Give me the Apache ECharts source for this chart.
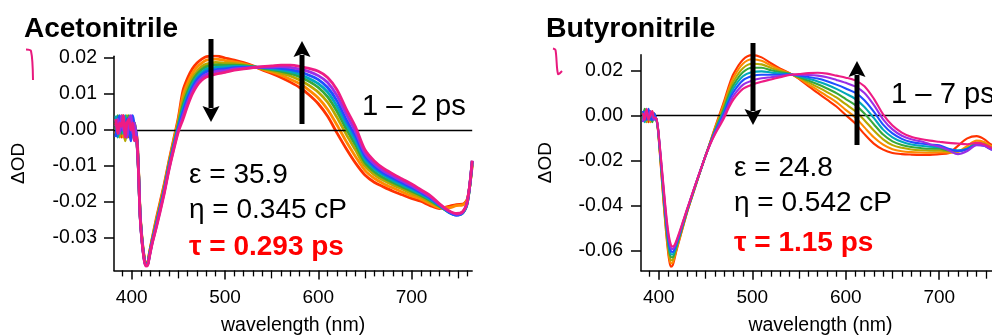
<!DOCTYPE html>
<html><head><meta charset="utf-8">
<script src="https://cdn.jsdelivr.net/npm/echarts@6/dist/echarts.min.js"></script>
<style>html,body{margin:0;padding:0;background:#fff}#c{width:992px;height:336px}</style>
</head><body><div id="c"></div>
<script>
// shared wavelength grid (nm)
const WL = [383,385,387,389,391,393,395,397,399,401,403,405,407,409,411,413,415,417,419,422,426,430,435,440,445,450,455,460,465,470,475,480,490,500,510,520,530,540,550,560,570,580,590,600,610,620,630,640,650,660,670,680,690,700,710,720,730,740,748,755,760,765];

// Acetonitrile, early (red) -> late (magenta)
const ACN_0 = [0.002,-0.001,0.003,-0.002,0.004,0.000,0.003,-0.002,0.002,0.001,-0.001,-0.001,-0.009,-0.023,-0.030,-0.0345,-0.0368,-0.0368,-0.034,-0.030,-0.025,-0.0205,-0.0148,-0.0085,-0.0025,0.0035,0.011,0.0145,0.017,0.0186,0.0197,0.0204,0.0206,0.0200,0.0194,0.0187,0.0178,0.0167,0.0157,0.0146,0.0133,0.0118,0.0098,0.0073,0.0038,-0.0008,-0.0052,-0.0092,-0.0125,-0.0145,-0.0158,-0.0170,-0.0180,-0.0190,-0.0198,-0.0210,-0.0218,-0.0212,-0.0207,-0.0206,-0.0190,-0.0098];
const ACN_1 = [-0.001,0.003,0.000,0.004,-0.002,0.003,-0.001,0.003,0.000,-0.002,0.002,-0.0015,-0.0092,-0.0232,-0.0302,-0.0347,-0.037,-0.0369,-0.0342,-0.0303,-0.0255,-0.021,-0.0153,-0.009,-0.003,0.0028,0.0096,0.0131,0.0157,0.0175,0.0186,0.0194,0.0197,0.0193,0.0189,0.0184,0.0177,0.0169,0.0161,0.0152,0.0141,0.0129,0.0111,0.0089,0.0057,0.0014,-0.0032,-0.0074,-0.0112,-0.0134,-0.0149,-0.0161,-0.0172,-0.0183,-0.0192,-0.0205,-0.0216,-0.0216,-0.021,-0.0208,-0.0192,-0.0096];
const ACN_2 = [0.003,0.001,-0.002,0.002,0.001,-0.003,0.004,0.001,-0.002,0.003,0.000,-0.002,-0.0095,-0.0234,-0.0304,-0.0349,-0.0372,-0.0371,-0.0344,-0.0305,-0.0259,-0.0215,-0.0158,-0.0094,-0.0036,0.0021,0.0081,0.0117,0.0145,0.0163,0.0176,0.0183,0.0188,0.0186,0.0184,0.0181,0.0176,0.0170,0.0165,0.0158,0.0150,0.0139,0.0124,0.0105,0.0077,0.0035,-0.0012,-0.0056,-0.0100,-0.0124,-0.0140,-0.0153,-0.0164,-0.0176,-0.0186,-0.0200,-0.0213,-0.0226,-0.0233,-0.0228,-0.0198,-0.009];
const ACN_3 = [0.000,0.004,0.002,-0.001,0.003,0.002,-0.002,0.004,0.001,-0.001,0.002,-0.0015,-0.0097,-0.0235,-0.0305,-0.035,-0.0373,-0.0372,-0.0346,-0.0308,-0.0263,-0.0219,-0.0162,-0.0098,-0.004,0.0015,0.007,0.0107,0.0135,0.0155,0.0168,0.0176,0.0181,0.018,0.018,0.0179,0.0176,0.0172,0.0168,0.0163,0.0157,0.0148,0.0135,0.0118,0.0092,0.0052,0.0003,-0.0042,-0.009,-0.0116,-0.0133,-0.0146,-0.0158,-0.017,-0.0182,-0.0196,-0.0212,-0.0228,-0.0235,-0.023,-0.02,-0.0088];
const ACN_4 = [0.004,-0.002,0.001,0.003,-0.001,0.004,0.001,-0.001,0.003,0.002,-0.002,-0.002,-0.0098,-0.0236,-0.0306,-0.0351,-0.0374,-0.0373,-0.0347,-0.0309,-0.0266,-0.0222,-0.0165,-0.01,-0.0044,0.001,0.006,0.0097,0.0127,0.0147,0.016,0.0169,0.0174,0.0175,0.0177,0.0176,0.0175,0.0173,0.017,0.0167,0.0162,0.0155,0.0143,0.0129,0.0105,0.0066,0.0016,-0.003,-0.0082,-0.0108,-0.0126,-0.014,-0.0153,-0.0165,-0.0178,-0.0193,-0.021,-0.0229,-0.0236,-0.023,-0.0199,-0.0087];
const ACN_5 = [-0.002,0.002,0.004,0.000,0.002,-0.001,0.003,0.002,-0.003,0.004,0.001,-0.001,-0.0099,-0.0237,-0.0307,-0.0352,-0.0375,-0.0374,-0.0349,-0.0311,-0.0269,-0.0225,-0.0168,-0.0104,-0.0047,0.0005,0.0051,0.0088,0.0118,0.014,0.0153,0.0162,0.0168,0.017,0.0173,0.0174,0.0174,0.0174,0.0173,0.0171,0.0168,0.0162,0.0152,0.014,0.0118,0.0081,0.0029,-0.0018,-0.0073,-0.0101,-0.012,-0.0134,-0.0147,-0.016,-0.0174,-0.0189,-0.0208,-0.0228,-0.0237,-0.0229,-0.0198,-0.0086];
const ACN_6 = [0.001,0.003,-0.001,0.004,0.000,0.002,-0.002,0.003,0.004,-0.001,0.002,-0.002,-0.01,-0.0239,-0.0309,-0.0354,-0.0377,-0.0375,-0.035,-0.0313,-0.0272,-0.0228,-0.0171,-0.0107,-0.0051,0.0000,0.004,0.0078,0.0109,0.0131,0.0146,0.0154,0.0162,0.0165,0.017,0.0172,0.0174,0.0175,0.0175,0.0176,0.0174,0.0169,0.0162,0.0151,0.0132,0.0096,0.0044,-0.0005,-0.0064,-0.0094,-0.0114,-0.0128,-0.0142,-0.0155,-0.017,-0.0186,-0.0207,-0.0226,-0.0234,-0.0228,-0.0196,-0.0086];
const ACN_7 = [0.003,-0.001,0.002,0.001,0.004,-0.002,0.002,0.003,0.000,0.002,-0.003,-0.002,-0.010,-0.024,-0.031,-0.0355,-0.0378,-0.0376,-0.0352,-0.0315,-0.0275,-0.0232,-0.0175,-0.011,-0.0055,-0.0005,0.003,0.0068,0.010,0.0123,0.0138,0.0147,0.0155,0.0160,0.0166,0.0170,0.0173,0.0176,0.0178,0.0180,0.0180,0.0177,0.0171,0.0163,0.0146,0.0112,0.0058,0.0008,-0.0055,-0.0086,-0.0107,-0.0122,-0.0136,-0.0150,-0.0166,-0.0182,-0.0205,-0.0224,-0.0232,-0.0226,-0.0195,-0.0085];

// Butyronitrile, early (red) -> late (magenta)
const BTN_0 = [0.001,-0.002,0.002,-0.003,0.001,-0.001,0.000,-0.001,-0.006,-0.016,-0.027,-0.038,-0.048,-0.057,-0.064,-0.0672,-0.0665,-0.0635,-0.060,-0.0555,-0.0495,-0.0435,-0.037,-0.0305,-0.0242,-0.018,-0.0118,-0.0055,0.0005,0.0065,0.0132,0.0185,0.0248,0.0268,0.0258,0.0232,0.0208,0.0188,0.0162,0.0130,0.0100,0.0070,0.0040,0.0002,-0.0035,-0.0083,-0.0125,-0.0152,-0.0167,-0.0172,-0.0174,-0.0175,-0.0175,-0.0172,-0.0168,-0.0135,-0.0102,-0.0092,-0.0105,-0.0128,-0.0135,-0.014];
const BTN_1 = [-0.002,0.002,-0.001,0.001,-0.003,0.002,-0.001,-0.001,-0.0058,-0.0156,-0.0263,-0.037,-0.0469,-0.0557,-0.0626,-0.0658,-0.0654,-0.0627,-0.0594,-0.055,-0.0491,-0.0433,-0.0368,-0.0304,-0.0241,-0.018,-0.0119,-0.0059,-0.0002,0.0055,0.0118,0.0169,0.023,0.025,0.0243,0.0222,0.0203,0.0187,0.0165,0.0138,0.0113,0.0086,0.0059,0.0025,-0.0008,-0.0053,-0.0097,-0.013,-0.015,-0.0159,-0.0163,-0.0165,-0.0166,-0.0164,-0.0165,-0.0162,-0.0135,-0.0112,-0.0118,-0.0135,-0.014,-0.0143];
const BTN_2 = [0.002,-0.001,-0.003,0.002,0.000,-0.002,0.001,-0.001,-0.0056,-0.0151,-0.0255,-0.036,-0.0457,-0.0544,-0.0611,-0.0644,-0.0641,-0.0618,-0.0587,-0.0545,-0.0488,-0.0431,-0.0367,-0.0303,-0.0241,-0.018,-0.0121,-0.0064,-0.001,0.0043,0.0104,0.0152,0.021,0.023,0.0227,0.0211,0.0197,0.0186,0.0168,0.0147,0.0126,0.0104,0.008,0.005,0.002,-0.0021,-0.0067,-0.0106,-0.0132,-0.0144,-0.0151,-0.0155,-0.0157,-0.0156,-0.016,-0.016,-0.0145,-0.0122,-0.0125,-0.014,-0.0145,-0.0146];
const BTN_3 = [-0.001,0.003,0.001,-0.002,0.002,-0.003,-0.001,-0.001,-0.0055,-0.0147,-0.0249,-0.035,-0.0446,-0.0531,-0.0597,-0.063,-0.063,-0.0609,-0.0581,-0.054,-0.0484,-0.0429,-0.0365,-0.0302,-0.024,-0.018,-0.0122,-0.0068,-0.0018,0.0033,0.009,0.0136,0.0192,0.0212,0.0212,0.0201,0.0192,0.0185,0.0171,0.0155,0.0139,0.012,0.0099,0.0073,0.0047,0.0009,-0.0039,-0.0085,-0.0115,-0.0131,-0.014,-0.0145,-0.0148,-0.0148,-0.0155,-0.0158,-0.0148,-0.0125,-0.013,-0.0145,-0.015,-0.015];
const BTN_4 = [0.000,-0.003,0.002,0.001,-0.002,0.001,0.000,-0.001,-0.0054,-0.0143,-0.0242,-0.034,-0.0434,-0.0519,-0.0583,-0.0617,-0.0618,-0.0601,-0.0574,-0.0535,-0.0481,-0.0426,-0.0363,-0.03,-0.024,-0.018,-0.0124,-0.0072,-0.0025,0.0022,0.0077,0.0121,0.0174,0.0193,0.0196,0.0191,0.0186,0.0183,0.0175,0.0163,0.0151,0.0136,0.0118,0.0097,0.0074,0.0038,-0.0011,-0.0063,-0.0097,-0.0117,-0.0129,-0.0135,-0.0139,-0.0141,-0.015,-0.0155,-0.0148,-0.0128,-0.0132,-0.0148,-0.0152,-0.0152];
const BTN_5 = [0.002,0.000,-0.002,0.003,-0.001,-0.002,0.001,-0.001,-0.0052,-0.0139,-0.0235,-0.033,-0.0423,-0.0506,-0.0569,-0.0603,-0.0607,-0.0592,-0.0568,-0.053,-0.0477,-0.0424,-0.0361,-0.0299,-0.0239,-0.018,-0.0125,-0.0076,-0.0033,0.0012,0.0063,0.0105,0.0156,0.0175,0.0181,0.0181,0.0181,0.0182,0.0178,0.0171,0.0164,0.0152,0.0137,0.012,0.0101,0.0068,0.0017,-0.0041,-0.008,-0.0104,-0.0118,-0.0125,-0.013,-0.0133,-0.0148,-0.0158,-0.015,-0.013,-0.0135,-0.015,-0.0155,-0.0155];
const BTN_6 = [-0.003,0.001,0.002,-0.001,0.002,0.000,-0.002,-0.001,-0.0051,-0.0134,-0.0227,-0.032,-0.0411,-0.0493,-0.0554,-0.0589,-0.0594,-0.0583,-0.0561,-0.0525,-0.0473,-0.0422,-0.036,-0.0298,-0.0239,-0.018,-0.0127,-0.0081,-0.004,0.0001,0.0049,0.0088,0.0136,0.0155,0.0165,0.017,0.0175,0.0181,0.0181,0.018,0.0177,0.017,0.0158,0.0145,0.0129,0.01,0.0047,-0.0017,-0.0062,-0.009,-0.0106,-0.0115,-0.0128,-0.0138,-0.0155,-0.0172,-0.0158,-0.0132,-0.0135,-0.015,-0.0155,-0.0155];
const BTN_7 = [0.001,-0.002,0.003,-0.002,0.000,0.002,-0.001,-0.001,-0.005,-0.013,-0.022,-0.031,-0.040,-0.048,-0.054,-0.0575,-0.0583,-0.0575,-0.0555,-0.052,-0.047,-0.042,-0.0358,-0.0297,-0.0238,-0.018,-0.0128,-0.0085,-0.0048,-0.001,0.0035,0.0072,0.0118,0.0137,0.015,0.016,0.017,0.018,0.0184,0.0188,0.019,0.0186,0.0177,0.0168,0.0156,0.013,0.0075,0.0005,-0.0045,-0.0076,-0.0095,-0.0105,-0.0112,-0.0117,-0.0122,-0.0125,-0.0128,-0.0122,-0.0128,-0.0142,-0.0148,-0.015];

// tick labels
const XTICKS = [400, 500, 600, 700];
const YTICKS_L = [-0.03, -0.02, -0.01, 0, 0.01, 0.02];
const YTICKS_R = [-0.06, -0.04, -0.02, 0, 0.02];
const COLORS = ['#ff3300', '#ff8a00', '#b5a800', '#36a83a', '#00a7ba', '#1f4fff', '#9a2ee6', '#ee1c84'];

const MID = [450, 550, 650, 750];
const MINOR = [];
for (let v = 390; v <= 760; v += 10) if (v % 50 !== 0) MINOR.push(v);

const F = '"Liberation Sans", Arial, sans-serif';
const chart = echarts.init(document.getElementById('c'));

function tickAxis(gi, values, len) {
  return {gridIndex: gi, type: 'value', min: 381, max: 765, position: 'bottom',
    axisLine: {show: false, onZero: false},
    axisTick: {show: true, customValues: values, length: len, lineStyle: {color: '#000', width: 1.3}},
    axisLabel: {show: false}, splitLine: {show: false}};
}
function xAxes(gi) {
  return [
    {gridIndex: gi, type: 'value', min: 381, max: 765, position: 'bottom',
     axisLine: {show: true, onZero: false, lineStyle: {color: '#000', width: 1.5}},
     axisTick: {show: true, customValues: XTICKS, length: 9, lineStyle: {color: '#000', width: 1.5}},
     axisLabel: {customValues: XTICKS, color: '#000', fontSize: 19, margin: 18, fontFamily: F},
     splitLine: {show: false},
     name: 'wavelength (nm)', nameLocation: 'middle', nameGap: 45,
     nameTextStyle: {color: '#000', fontSize: 19.5, fontFamily: F}},
    tickAxis(gi, MID, 8),
    tickAxis(gi, MINOR, 6)
  ];
}
function yAxis(gi, min, max, ticks, margin, gap) {
  return {gridIndex: gi, type: 'value', min: min, max: max, position: 'left',
    axisLine: {show: true, onZero: false, lineStyle: {color: '#000', width: 1.5}},
    axisTick: {show: true, customValues: ticks, length: 10, lineStyle: {color: '#000', width: 1.5}},
    axisLabel: {customValues: ticks, formatter: v => v.toFixed(2), color: '#000', fontSize: 19.5, margin: margin, fontFamily: F},
    splitLine: {show: false},
    name: 'ΔOD', nameLocation: 'middle', nameGap: gap, nameRotate: 90,
    nameTextStyle: {color: '#000', fontSize: 19, fontFamily: F}};
}

const series = [];
function addPanel(curves, gi, width) {
  curves.forEach((arr, k) => {
    const s = {type: 'line', xAxisIndex: gi * 3, yAxisIndex: gi,
      data: WL.map((w, i) => [w, arr[i]]), showSymbol: false, smooth: 0.3,
      lineStyle: {width: width, color: COLORS[k]}, itemStyle: {color: COLORS[k]},
      silent: true, z: 2 + k};
    if (k === curves.length - 1) {
      s.markLine = {silent: true, symbol: 'none', label: {show: false},
        lineStyle: {color: '#000', width: 1.3, type: 'solid'}, data: [{yAxis: 0}]};
    }
    series.push(s);
  });
}
addPanel([ACN_0, ACN_1, ACN_2, ACN_3, ACN_4, ACN_5, ACN_6, ACN_7], 0, 2.8);
addPanel([BTN_0, BTN_1, BTN_2, BTN_3, BTN_4, BTN_5, BTN_6, BTN_7], 1, 2.1);

function arrow(x, tail, tip) {
  const dir = tip > tail ? 1 : -1;
  const base = tip - dir * 16;
  return [
    {type: 'line', z: 100, shape: {x1: x, y1: tail, x2: x, y2: base + dir * 2}, style: {stroke: '#000', lineWidth: 5}},
    {type: 'polygon', z: 100, shape: {points: [[x - 8.5, base], [x, base + dir * 3], [x + 8.5, base], [x, tip]]}, style: {fill: '#000'}}
  ];
}
function txt(x, y, text, size, weight, color) {
  return {type: 'text', z: 100, x: x, y: y,
    style: {text: text, fontSize: size, fontWeight: weight, fontFamily: F, fill: color, align: 'left', verticalAlign: 'middle'}};
}
function squiggle(points) {
  return {type: 'polyline', z: 100, shape: {points: points, smooth: 0.3}, style: {stroke: '#e8197d', lineWidth: 2, fill: null}};
}

const graphic = [].concat(
  [txt(24, 29, 'Acetonitrile', 28, 'bold', '#000'),
   txt(546, 29, 'Butyronitrile', 28.5, 'bold', '#000'),
   txt(362, 107, '1 – 2 ps', 29.2, 'normal', '#000'),
   txt(891, 95, '1 – 7 ps', 29.2, 'normal', '#000'),
   txt(189, 175, 'ε = 35.9', 28, 'normal', '#000'),
   txt(189, 210, 'η = 0.345 cP', 28, 'normal', '#000'),
   txt(189, 247, 'τ = 0.293 ps', 28, 'bold', '#ff0000'),
   txt(734, 168, 'ε = 24.8', 28, 'normal', '#000'),
   txt(734, 203, 'η = 0.542 cP', 28, 'normal', '#000'),
   txt(734, 243, 'τ = 1.15 ps', 28, 'bold', '#ff0000'),
   squiggle([[26, 49.5], [31, 51], [33, 80]]),
   squiggle([[553, 48.5], [555.5, 50], [558, 74], [562, 71]])],
  arrow(211, 39, 122), arrow(302, 124, 41),
  arrow(753, 43, 125), arrow(857, 145, 61)
);

chart.setOption({
  animation: false,
  backgroundColor: '#fff',
  grid: [
    {left: 114, top: 56.2, width: 358.2, height: 214.2, containLabel: false, outerBoundsMode: 'none'},
    {left: 641, top: 54.7, width: 359, height: 216, containLabel: false, outerBoundsMode: 'none'}
  ],
  xAxis: xAxes(0).concat(xAxes(1)),
  yAxis: [yAxis(0, -0.039, 0.0205, YTICKS_L, 17, 86), yAxis(1, -0.069, 0.027, YTICKS_R, 18, 86)],
  series: series,
  graphic: graphic
});
</script>
</body></html>
